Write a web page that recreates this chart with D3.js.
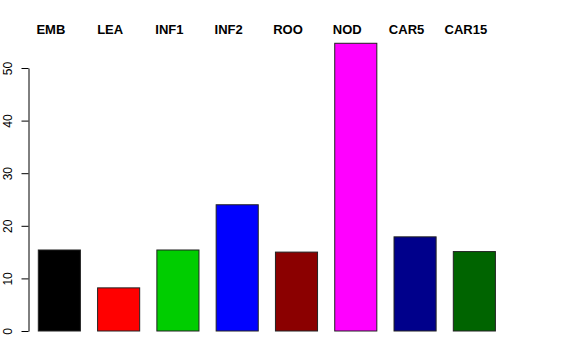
<!DOCTYPE html>
<html>
<head>
<meta charset="utf-8">
<script src="https://cdn.jsdelivr.net/npm/d3@7"></script>
<style>
body{margin:0;background:#fff;}
text{font-family:"Liberation Sans",Arial,Helvetica,sans-serif;}
</style>
</head>
<body>
<script>
var categories=['EMB','LEA','INF1','INF2','ROO','NOD','CAR5','CAR15'];
var values=[15.4,8.2,15.4,24.0,15.0,54.7,17.9,15.1];
var colors=['#000000','#ff0000','#00cd00','#0000ff','#8b0000','#ff00ff','#00008b','#006400'];
var yTicks=[0,10,20,30,40,50];

var width=576,height=360;
var svg=d3.select('body').append('svg')
  .attr('width',width)
  .attr('height',height);

var x=d3.scaleBand()
  .domain(categories)
  .range([38.3,495.4])
  .paddingInner(0.29)
  .paddingOuter(0);

var y=d3.scaleLinear()
  .domain([0,50])
  .range([331,68]);

// bars
svg.selectAll('rect.bar')
  .data(values)
  .enter()
  .append('rect')
  .attr('class','bar')
  .attr('x',(d,i)=>x(categories[i]))
  .attr('y',d=>y(d))
  .attr('width',x.bandwidth())
  .attr('height',d=>y(0)-y(d))
  .style('fill',(d,i)=>colors[i])
  .style('stroke','#222')
  .style('stroke-width',1);

// y axis like R: ticks on the left, labels turned
var yAxis=d3.axisLeft(y)
  .tickValues(yTicks)
  .tickSize(7)
  .tickPadding(9)
  .tickSizeOuter(0);
var g=svg.append('g')
  .attr('transform','translate(28.5,0)')
  .call(yAxis);
g.select('.domain').attr('stroke','#000');
g.selectAll('.tick line').attr('stroke','#000');
g.selectAll('.tick text')
  .attr('x',0)
  .attr('dy',0)
  .attr('transform','translate(-16.5,0) rotate(-90)')
  .attr('text-anchor','middle')
  .style('font-size','12px')
  .style('fill','#000');

// category labels across the top
svg.selectAll('text.cat')
  .data(categories)
  .enter()
  .append('text')
  .attr('class','cat')
  .attr('x',d=>x(d)+x.bandwidth()/2-8.5)
  .attr('y',34)
  .attr('text-anchor','middle')
  .style('font-size','13px')
  .style('font-weight','bold')
  .text(d=>d);
</script>
</body>
</html>
